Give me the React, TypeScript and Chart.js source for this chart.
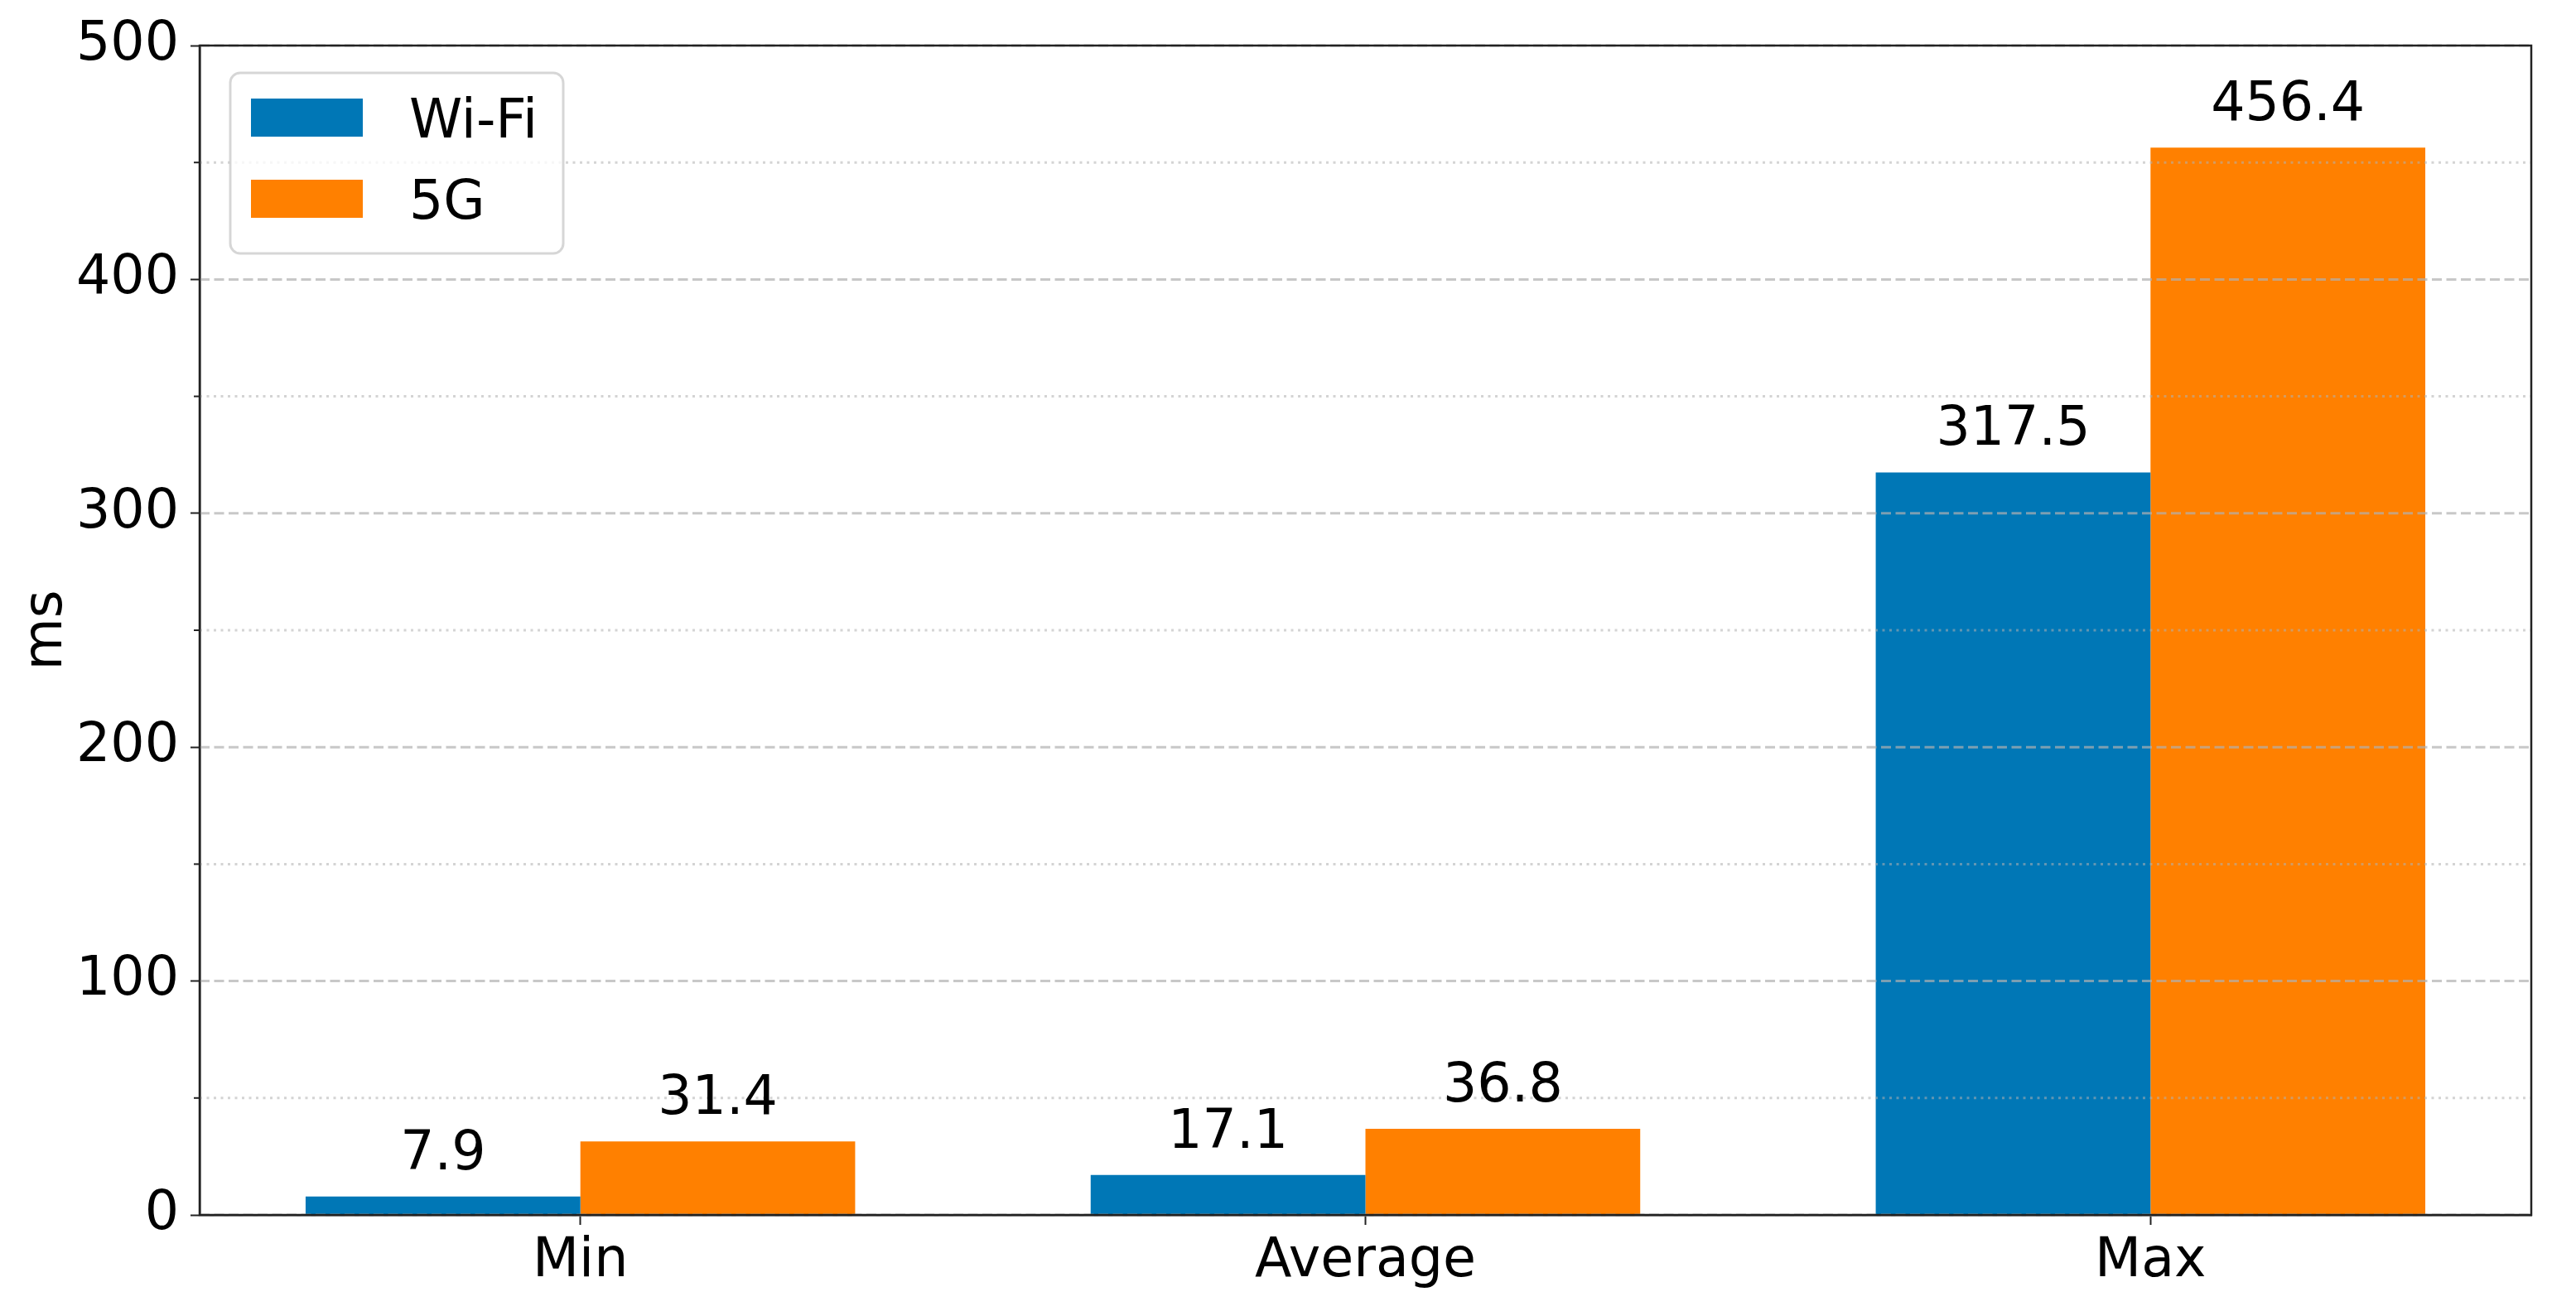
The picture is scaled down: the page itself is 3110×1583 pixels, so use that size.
import React, { useEffect, useRef } from 'react';
import { Chart, registerables } from 'chart.js';

Chart.register(...registerables);

// data
const categories = ['Min', 'Average', 'Max'];
const wifiValues = [7.9, 17.1, 317.5];
const fiveGValues = [31.4, 36.8, 456.4];
const majorTicks = [0, 100, 200, 300, 400, 500];
const minorTicks = [50, 150, 250, 350, 450];

const FONT = '"DejaVu Sans", Verdana, sans-serif';
const FONT_SIZE = 65;
const AXIS_COLOR = '#222';

const decorPlugin = {
  id: 'decor',
  afterDatasetsDraw(chart: any) {
    const { ctx, chartArea } = chart;
    const y = chart.scales.y;
    const { left, right, top, bottom } = chartArea;

    ctx.save();
    // grid lines sit on top of the bars, semi transparent
    ctx.lineWidth = 3;
    ctx.strokeStyle = 'rgba(176,176,176,0.7)';
    ctx.setLineDash([12, 5.5]);
    majorTicks.forEach((v) => {
      const py = y.getPixelForValue(v);
      ctx.beginPath();
      ctx.moveTo(left, py);
      ctx.lineTo(right, py);
      ctx.stroke();
    });
    ctx.strokeStyle = 'rgba(176,176,176,0.55)';
    ctx.setLineDash([3, 5.5]);
    minorTicks.forEach((v) => {
      const py = y.getPixelForValue(v);
      ctx.beginPath();
      ctx.moveTo(left, py);
      ctx.lineTo(right, py);
      ctx.stroke();
    });

    // minor tick marks
    ctx.setLineDash([]);
    ctx.strokeStyle = AXIS_COLOR;
    ctx.lineWidth = 2;
    minorTicks.forEach((v) => {
      const py = y.getPixelForValue(v);
      ctx.beginPath();
      ctx.moveTo(left - 7, py);
      ctx.lineTo(left, py);
      ctx.stroke();
    });

    // frame on all four sides
    ctx.lineWidth = 2.5;
    ctx.strokeRect(left, top, right - left, bottom - top);

    // value labels above the bars
    ctx.fillStyle = '#000';
    ctx.font = `${FONT_SIZE}px ${FONT}`;
    ctx.textAlign = 'center';
    ctx.textBaseline = 'alphabetic';
    chart.data.datasets.forEach((ds: any, di: number) => {
      const meta = chart.getDatasetMeta(di);
      meta.data.forEach((bar: any, i: number) => {
        const val = ds.data[i].y;
        ctx.fillText(val.toFixed(1), bar.x, bar.y - 33);
      });
    });
    ctx.restore();
  },
  afterDraw(chart: any) {
    const { ctx } = chart;
    const bx = 278;
    const by = 88;
    const bw = 402;
    const bh = 218;
    ctx.save();
    ctx.beginPath();
    ctx.roundRect(bx, by, bw, bh, 12);
    ctx.fillStyle = 'rgba(255,255,255,0.8)';
    ctx.fill();
    ctx.strokeStyle = 'rgba(204,204,204,0.8)';
    ctx.lineWidth = 3;
    ctx.stroke();

    ctx.font = `${FONT_SIZE}px ${FONT}`;
    ctx.textAlign = 'left';
    ctx.textBaseline = 'alphabetic';
    chart.data.datasets.forEach((ds: any, i: number) => {
      const sy = 119 + i * 98;
      ctx.fillStyle = ds.backgroundColor;
      ctx.fillRect(303, sy, 135, 46);
      ctx.fillStyle = '#000';
      ctx.fillText(ds.label, 494, sy + 47);
    });
    ctx.restore();
  },
};

const App: React.FC = () => {
  const canvasRef = useRef<HTMLCanvasElement | null>(null);
  const chartRef = useRef<Chart | null>(null);

  useEffect(() => {
    document.body.style.margin = '0';
    if (!canvasRef.current) return;
    if (chartRef.current) chartRef.current.destroy();

    chartRef.current = new Chart(canvasRef.current, {
      type: 'bar',
      data: {
        datasets: [
          {
            label: 'Wi-Fi',
            data: wifiValues.map((v, i) => ({ x: i, y: v })),
            backgroundColor: '#0077b6',
            borderWidth: 0,
          },
          {
            label: '5G',
            data: fiveGValues.map((v, i) => ({ x: i, y: v })),
            backgroundColor: '#ff8000',
            borderWidth: 0,
          },
        ],
      },
      options: {
        animation: false,
        responsive: true,
        maintainAspectRatio: false,
        devicePixelRatio: 1,
        categoryPercentage: 0.7,
        barPercentage: 1,
        layout: { padding: { top: 55, right: 54, left: 0, bottom: 0 } },
        plugins: {
          legend: { display: false },
          tooltip: { enabled: false },
        },
        scales: {
          x: {
            type: 'linear',
            min: -0.485,
            max: 2.485,
            offset: false,
            afterBuildTicks: (scale: any) => {
              scale.ticks = categories.map((_, i) => ({ value: i }));
            },
            afterFit: (scale: any) => {
              scale.height = 116;
            },
            ticks: {
              callback: (v: any) => categories[v] ?? '',
              font: { family: FONT, size: FONT_SIZE },
              color: '#000',
              padding: 6,
              autoSkip: false,
              maxRotation: 0,
            },
            grid: {
              offset: false,
              drawOnChartArea: false,
              drawTicks: true,
              tickLength: 12,
              tickColor: AXIS_COLOR,
              tickWidth: 2,
            },
            border: { display: true, color: AXIS_COLOR, width: 2.5 },
          },
          y: {
            min: 0,
            max: 500,
            afterFit: (scale: any) => {
              scale.width = 241;
            },
            ticks: {
              stepSize: 100,
              font: { family: FONT, size: FONT_SIZE },
              color: '#000',
              padding: 14,
            },
            grid: {
              drawOnChartArea: false,
              drawTicks: true,
              tickLength: 11,
              tickColor: AXIS_COLOR,
              tickWidth: 2,
            },
            border: { display: true, color: AXIS_COLOR, width: 2.5 },
            title: {
              display: true,
              text: 'ms',
              font: { family: FONT, size: FONT_SIZE },
              color: '#000',
              padding: { top: 18, bottom: 0 },
            },
          },
        },
      },
      plugins: [decorPlugin],
    } as any);

    return () => {
      if (chartRef.current) {
        chartRef.current.destroy();
        chartRef.current = null;
      }
    };
  }, []);

  return (
    <div style={{ width: '3110px', height: '1583px', position: 'relative', background: '#fff' }}>
      <canvas ref={canvasRef} />
    </div>
  );
};

export default App;
